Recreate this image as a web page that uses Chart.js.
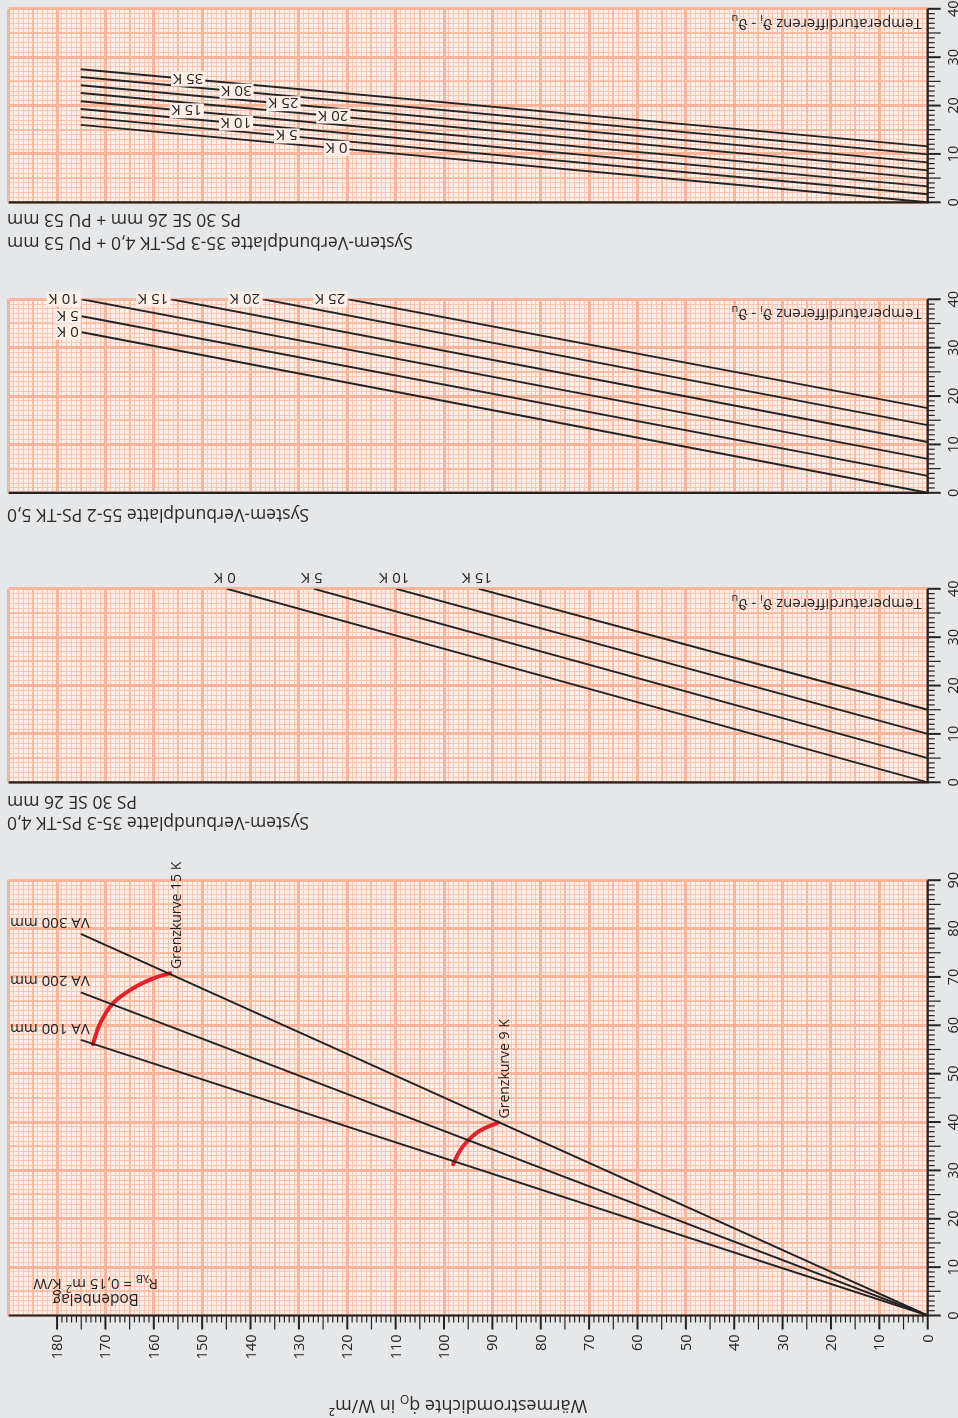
<!DOCTYPE html>
<html lang="de">
<head>
<meta charset="utf-8">
<title>Wärmestromdichte – Temperaturdifferenz</title>
<script src="https://cdn.jsdelivr.net/npm/chart.js@4.4.1/dist/chart.umd.min.js"></script>
<style>
  html, body { margin: 0; padding: 0; background: #e6e7e8; }
  #sheet {
    position: relative; width: 958px; height: 1418px; overflow: hidden;
    background: #e6e7e8; transform: rotate(180deg);
    font-family: "Open Sans", "DejaVu Sans", sans-serif; color: #2a2a2a;
  }
  #sheet canvas { position: absolute; left: 0; }
  .title { position: absolute; right: 7px; font-size: 17.5px; line-height: 20px; white-space: nowrap; text-align: right; }
  #qTitle { position: absolute; left: 0; width: 1000px; top: 0px; text-align: center; font-size: 18px; line-height: 22px; }
</style>
</head>
<body>
<div id="sheet">
  <div id="qTitle">Wärmestromdichte q̇<sub style="font-size:12px">O</sub> in W/m²</div>
  <canvas id="c1" width="958" height="540" style="top:40px"></canvas>

  <div class="title" style="top:584px">System-Verbundplatte 35-3 PS-TK 4,0</div>
  <div class="title" style="top:605px">PS 30 SE 26 mm</div>
  <canvas id="c2" width="958" height="235" style="top:625px"></canvas>

  <div class="title" style="top:892px">System-Verbundplatte 55-2 PS-TK 5,0</div>
  <canvas id="c3" width="958" height="215" style="top:915px"></canvas>

  <div class="title" style="top:1164px">System-Verbundplatte 35-3 PS-TK 4,0 + PU 53 mm</div>
  <div class="title" style="top:1187px">PS 30 SE 26 mm + PU 53 mm</div>
  <canvas id="c4" width="958" height="213" style="top:1205px"></canvas>
</div>
<script>
// --- axes ---
const Q_MAX = 190;
const qTickLabels = [0, 10, 20, 30, 40, 50, 60, 70, 80, 90, 100, 110, 120, 130, 140, 150, 160, 170, 180];
const dtTickLabelsBig = [0, 10, 20, 30, 40, 50, 60, 70, 80, 90];
const dtTickLabels = [0, 10, 20, 30, 40];

// --- Bodenbelag R = 0,15: Verlegeabstände ---
const vaNames = ['VA 100 mm', 'VA 200 mm', 'VA 300 mm'];
const vaEndQ = [175.1, 175.1, 175.1];
const vaEndDT = [57.0, 66.8, 78.9];

// Grenzkurven
const grenz15Q = [172.6, 171.1, 168.4, 164.2, 160.1, 156.6];
const grenz15DT = [56.1, 60.4, 64.6, 67.7, 69.7, 70.8];
const grenz9Q = [98.1, 96.8, 95.3, 92.6, 88.8];
const grenz9DT = [31.3, 33.9, 35.9, 38.2, 39.9];

// --- 35-3 PS-TK 4,0 / PS 30 SE 26 mm ---
const p2Names = ['0 K', '5 K', '10 K', '15 K'];
const p2StartDT = [0, 5, 10, 15];
const p2TopQ = [144.9, 126.9, 109.9, 92.8];

// --- 55-2 PS-TK 5,0 ---
const p3Names = ['0 K', '5 K', '10 K', '15 K', '20 K', '25 K'];
const p3StartDT = [0, 3.5, 7, 10.5, 14, 17.5];
const p3EndQ = [174.9, 174.9, 174.9, 156.4, 137.4, 119.8];
const p3EndDT = [33.2, 36.5, 40, 40, 40, 40];

// --- 35-3 PS-TK 4,0 + PU 53 mm ---
const p4Names = ['0 K', '5 K', '10 K', '15 K', '20 K', '25 K', '30 K', '35 K'];
const p4StartDT = [0, 1.65, 3.3, 4.95, 6.6, 8.25, 9.9, 11.55];
const p4EndQ = [175.1, 175.1, 175.1, 175.1, 175.1, 175.1, 175.1, 175.1];
const p4EndDT = [16.0, 17.6, 19.3, 20.9, 22.6, 24.2, 25.9, 27.5];
const p4LabelQ = [122.2, 132.5, 143.0, 153.2, 122.9, 133.2, 142.9, 152.9];

const INK = '#232323';
const RED = '#e3222b';
const PAPER = '#fdeee7';
const GRID_THIN = '#f9c6b3';
const GRID_MID = '#f8b9a1';
const GRID_THICK = '#f8b59b';
const FONT = '"Open Sans", "DejaVu Sans", sans-serif';
const LABEL = 15;

function paperScales(yMax) {
  const thin = { color: GRID_THIN, lineWidth: 1, drawTicks: false, z: -2 };
  const major = {
    color: c => c.tick.value % 10 === 0 ? GRID_THICK : GRID_MID,
    lineWidth: c => c.tick.value % 10 === 0 ? 3 : 1.8,
    drawTicks: false, z: -1
  };
  const hidden = { display: false };
  return {
    x: { type: 'linear', axis: 'x', position: 'bottom', min: 0, max: Q_MAX,
         ticks: { display: false, stepSize: 1 }, grid: thin, border: hidden },
    xMajor: { type: 'linear', axis: 'x', position: 'bottom', min: 0, max: Q_MAX,
         ticks: { display: false, stepSize: 5 }, grid: major, border: hidden },
    y: { type: 'linear', axis: 'y', position: 'left', reverse: true, min: 0, max: yMax,
         ticks: { display: false, stepSize: 1 }, grid: thin, border: hidden },
    yMajor: { type: 'linear', axis: 'y', position: 'left', reverse: true, min: 0, max: yMax,
         ticks: { display: false, stepSize: 5 }, grid: major, border: hidden }
  };
}

function blackLine(points) {
  return { data: points, borderColor: INK, borderWidth: 1.9, pointRadius: 0, fill: false, tension: 0 };
}

function redCurve(qs, dts) {
  return {
    data: qs.map((q, i) => ({ x: q, y: dts[i] })),
    borderColor: RED, borderWidth: 4, pointRadius: 0, fill: false,
    tension: 0.4, borderCapStyle: 'round'
  };
}

function setFont(ctx, size) {
  ctx.font = size + 'px ' + FONT;
  ctx.fillStyle = INK;
}

// text pieces with sub-/superscripts, e.g. R_λB
function drawRuns(ctx, runs, x, y, size, align) {
  const small = Math.round(size * 0.7);
  const widths = runs.map(r => {
    setFont(ctx, r.sub || r.sup ? small : size);
    return ctx.measureText(r.t).width;
  });
  const total = widths.reduce((a, b) => a + b, 0);
  let cx = align === 'center' ? x - total / 2 : x;
  ctx.textAlign = 'left';
  ctx.textBaseline = 'alphabetic';
  runs.forEach((r, i) => {
    setFont(ctx, r.sub || r.sup ? small : size);
    const dy = r.sub ? size * 0.25 : r.sup ? -size * 0.4 : 0;
    ctx.fillText(r.t, cx, y + dy);
    cx += widths[i];
  });
  return total;
}

function rotatedText(ctx, str, x, y, align, offX, offY) {
  ctx.save();
  ctx.translate(x, y);
  ctx.rotate(Math.PI / 2);
  ctx.textAlign = align;
  ctx.textBaseline = 'alphabetic';
  ctx.fillText(str, offX, offY);
  ctx.restore();
}

function boxedText(ctx, str, x, y, align) {
  const w = ctx.measureText(str).width;
  const left = align === 'center' ? x - w / 2 : x;
  ctx.fillStyle = PAPER;
  ctx.fillRect(left - 2, y - 7.5, w + 4, 15);
  ctx.fillStyle = INK;
  ctx.textAlign = 'left';
  ctx.textBaseline = 'alphabetic';
  ctx.fillText(str, left, y + 5.5);
}

function tempLabel(ctx, a) {
  drawRuns(ctx, [
    { t: 'Temperaturdifferenz ϑ' }, { t: 'i', sub: true }, { t: ' - ϑ' }, { t: 'u', sub: true }
  ], a.left + 6, a.bottom - 10, LABEL, 'left');
}

// paper background, black axes, tick marks and labels
function paperPlugin(dtLabels, withQAxis, extra) {
  return {
    id: 'paper',
    beforeDraw(chart) {
      const { ctx, chartArea: a } = chart;
      ctx.save();
      ctx.fillStyle = PAPER;
      ctx.fillRect(a.left, a.top, a.right - a.left, a.bottom - a.top);
      ctx.restore();
    },
    afterDraw(chart) {
      const { ctx, chartArea: a, scales: { x, y } } = chart;
      ctx.save();
      ctx.strokeStyle = INK;
      // temperature axis ticks
      for (let v = y.min; v <= y.max; v++) {
        const py = y.getPixelForValue(v);
        ctx.lineWidth = v % 10 === 0 ? 2 : 1.2;
        ctx.beginPath();
        ctx.moveTo(a.left, py);
        ctx.lineTo(a.left - (v % 5 === 0 ? 13 : 7), py);
        ctx.stroke();
      }
      if (withQAxis) {
        for (let v = x.min; v <= 180; v++) {
          const px = x.getPixelForValue(v);
          ctx.lineWidth = v % 10 === 0 ? 2 : 1.2;
          ctx.beginPath();
          ctx.moveTo(px, a.top);
          ctx.lineTo(px, a.top - (v % 5 === 0 ? 14 : 7));
          ctx.stroke();
        }
      }
      // axis lines
      ctx.lineWidth = 2.2;
      ctx.beginPath();
      ctx.moveTo(a.left, a.bottom);
      ctx.lineTo(a.left, a.top);
      ctx.moveTo(a.left - 1, a.top);
      ctx.lineTo(a.right, a.top);
      ctx.stroke();

      setFont(ctx, 14.5);
      dtLabels.forEach(v => {
        rotatedText(ctx, String(v), 0, y.getPixelForValue(v), 'center', 0, 0);
      });
      if (withQAxis) {
        qTickLabels.forEach(v => {
          rotatedText(ctx, String(v), x.getPixelForValue(v), a.top - 19, 'right', 0, 5);
        });
      }
      if (extra) extra(chart, ctx, a, x, y);
      ctx.restore();
    }
  };
}

function baseOptions(pad, yMax) {
  return {
    responsive: false,
    animation: false,
    events: [],
    layout: { padding: pad },
    scales: paperScales(yMax),
    plugins: { legend: { display: false }, tooltip: { enabled: false } }
  };
}

const pad = (top, bottom) => ({ left: 30.3, right: 8.7, top, bottom });

// Diagramm mit Bodenbelag und Verlegeabständen
new Chart(document.getElementById('c1'), {
  type: 'line',
  data: {
    datasets: [
      ...vaEndQ.map((q, i) => blackLine([{ x: 0, y: 0 }, { x: q, y: vaEndDT[i] }])),
      redCurve(grenz15Q, grenz15DT),
      redCurve(grenz9Q, grenz9DT)
    ]
  },
  options: baseOptions(pad(62.5, 42.2), 90),
  plugins: [paperPlugin(dtTickLabelsBig, true, (chart, ctx, a, x, y) => {
    setFont(ctx, LABEL);
    vaNames.forEach((name, i) => {
      ctx.textAlign = 'left';
      ctx.textBaseline = 'alphabetic';
      ctx.fillText(name, x.getPixelForValue(vaEndQ[i]) - 9, y.getPixelForValue(vaEndDT[i]) + 16);
    });
    setFont(ctx, 14);
    const g15 = grenz15Q.length - 1, g9 = grenz9Q.length - 1;
    rotatedText(ctx, 'Grenzkurve 15 K', x.getPixelForValue(grenz15Q[g15]), y.getPixelForValue(grenz15DT[g15]), 'left', 4, 10.5);
    rotatedText(ctx, 'Grenzkurve 9 K', x.getPixelForValue(grenz9Q[g9]), y.getPixelForValue(grenz9DT[g9]), 'left', 4, 10.5);

    const cx = a.right - 87;
    setFont(ctx, 15.5);
    ctx.textAlign = 'center';
    ctx.fillText('Bodenbelag', cx, a.top + 21);
    drawRuns(ctx, [
      { t: 'R' }, { t: 'λB', sub: true }, { t: ' = 0,15 m' }, { t: '2', sup: true }, { t: ' K/W' }
    ], cx, a.top + 36.5, 15, 'center');
  })]
});

// 35-3 PS-TK 4,0 / PS 30 SE 26 mm
new Chart(document.getElementById('c2'), {
  type: 'line',
  data: { datasets: p2TopQ.map((q, i) => blackLine([{ x: 0, y: p2StartDT[i] }, { x: q, y: 40 }])) },
  options: baseOptions(pad(10.7, 30.8), 40),
  plugins: [paperPlugin(dtTickLabels, false, (chart, ctx, a, x, y) => {
    setFont(ctx, LABEL);
    ctx.textAlign = 'center';
    ctx.textBaseline = 'alphabetic';
    p2Names.forEach((name, i) => {
      ctx.fillText(name, x.getPixelForValue(p2TopQ[i]) + 2, y.getPixelForValue(40) + 16);
    });
    tempLabel(ctx, a);
  })]
});

// 55-2 PS-TK 5,0
new Chart(document.getElementById('c3'), {
  type: 'line',
  data: { datasets: p3EndQ.map((q, i) => blackLine([{ x: 0, y: p3StartDT[i] }, { x: q, y: p3EndDT[i] }])) },
  options: baseOptions(pad(10.2, 11.3), 40),
  plugins: [paperPlugin(dtTickLabels, false, (chart, ctx, a, x, y) => {
    setFont(ctx, LABEL);
    p3Names.forEach((name, i) => {
      boxedText(ctx, name, x.getPixelForValue(p3EndQ[i]) + 3, y.getPixelForValue(p3EndDT[i]), 'left');
    });
    tempLabel(ctx, a);
  })]
});

// 35-3 PS-TK 4,0 + PU 53 mm
new Chart(document.getElementById('c4'), {
  type: 'line',
  data: { datasets: p4EndQ.map((q, i) => blackLine([{ x: 0, y: p4StartDT[i] }, { x: q, y: p4EndDT[i] }])) },
  options: baseOptions(pad(10.7, 8.8), 40),
  plugins: [paperPlugin(dtTickLabels, false, (chart, ctx, a, x, y) => {
    setFont(ctx, LABEL);
    p4Names.forEach((name, i) => {
      const q = p4LabelQ[i];
      const dt = p4StartDT[i] + (p4EndDT[i] - p4StartDT[i]) * q / p4EndQ[i];
      boxedText(ctx, name, x.getPixelForValue(q), y.getPixelForValue(dt), 'center');
    });
    tempLabel(ctx, a);
  })]
});
</script>
</body>
</html>
